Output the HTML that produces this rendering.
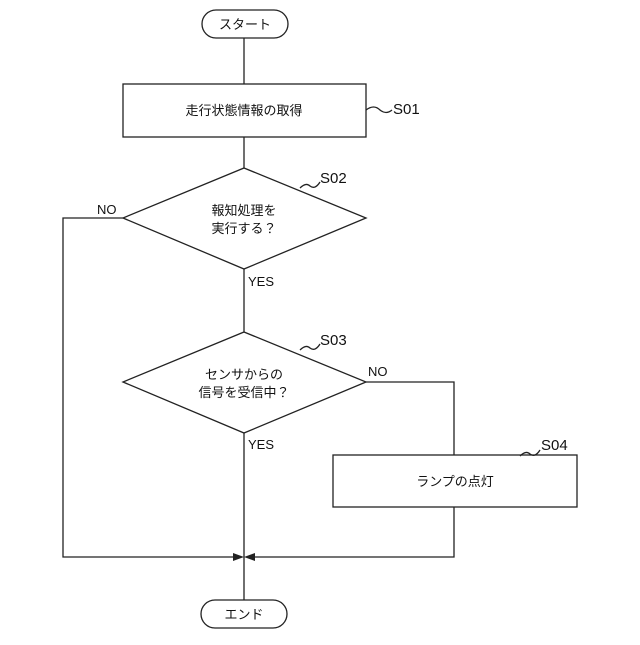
<!DOCTYPE html>
<html><head><meta charset="utf-8"><style>
body{margin:0;background:#fff}
svg text{font-family:"Liberation Sans","Noto Sans CJK JP",sans-serif;fill:#111}
</style></head><body>
<svg width="640" height="640" viewBox="0 0 640 640" xmlns="http://www.w3.org/2000/svg">
<g fill="none" stroke="#222" stroke-width="1.3">
<rect x="202" y="10" width="86" height="28" rx="14"/>
<line x1="244" y1="38" x2="244" y2="84"/>
<rect x="123" y="84" width="243" height="53"/>
<line x1="244" y1="137" x2="244" y2="168"/>
<polygon points="244,168 366,218 244,269 123,218"/>
<line x1="244" y1="269" x2="244" y2="332"/>
<polygon points="244,332 366,382 244,433 123,382"/>
<line x1="244" y1="433" x2="244" y2="600"/>
<polyline points="123,218 63,218 63,557 238,557"/>
<polyline points="366,382 454,382 454,455"/>
<rect x="333" y="455" width="244" height="52"/>
<polyline points="454,507 454,557 250,557"/>
<rect x="201" y="600" width="86" height="28" rx="14"/>
<path d="M366 110 q8 -6 14 0 q6 5 12 0"/>
<path d="M300 188 q6 -6 10 -2 q5 4 10 -4"/>
<path d="M300 350 q6 -6 10 -2 q5 4 10 -4"/>
<path d="M520 456 q6 -6 10 -2 q5 4 10 -4"/>
</g>
<polygon points="244,557 233,553 233,561" fill="#222"/>
<polygon points="244,557 255,553 255,561" fill="#222"/>
<g font-size="13" text-anchor="middle">
<text x="245" y="29">スタート</text>
<text x="244" y="115">走行状態情報の取得</text>
<text x="244" y="215">報知処理を</text>
<text x="244" y="233">実行する？</text>
<text x="244" y="379">センサからの</text>
<text x="244" y="397">信号を受信中？</text>
<text x="455" y="486">ランプの点灯</text>
<text x="244" y="619">エンド</text>
</g>
<g font-size="15">
<text x="393" y="114">S01</text>
<text x="320" y="183">S02</text>
<text x="320" y="345">S03</text>
<text x="541" y="450">S04</text>
</g>
<g font-size="13">
<text x="97" y="214">NO</text>
<text x="248" y="286">YES</text>
<text x="368" y="376">NO</text>
<text x="248" y="449">YES</text>
</g>
</svg>
</body></html>
